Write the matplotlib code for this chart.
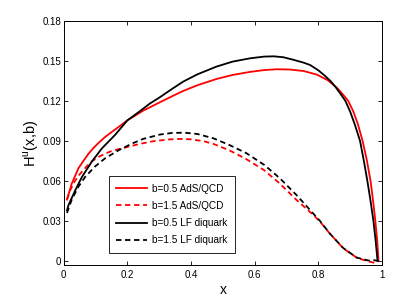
import matplotlib
matplotlib.use("Agg")
import matplotlib.pyplot as plt

plt.rcParams['font.family'] = ['Liberation Sans', 'DejaVu Sans']
plt.rcParams['mathtext.fontset'] = 'custom'
plt.rcParams['mathtext.rm'] = 'Liberation Sans'

# b=0.5 AdS/QCD
x_red_05 = [0.01, 0.025, 0.046, 0.06, 0.078, 0.093, 0.109, 0.13, 0.151, 0.175, 0.2, 0.25, 0.3,
            0.34, 0.375, 0.42, 0.48, 0.53, 0.585, 0.63, 0.67, 0.71, 0.753, 0.795, 0.83,
            0.857, 0.875, 0.894, 0.91, 0.925, 0.939, 0.952, 0.964, 0.972, 0.979, 0.985, 0.989]
y_red_05 = [0.046, 0.058, 0.0695, 0.0745, 0.0805, 0.0847, 0.0885, 0.093, 0.0968, 0.101, 0.1055, 0.1128, 0.1188,
            0.1235, 0.1275, 0.1318, 0.1365, 0.1395, 0.1418, 0.1432, 0.1438, 0.1436, 0.1425, 0.1398, 0.1355,
            0.1302, 0.1255, 0.12, 0.112, 0.102, 0.09, 0.076, 0.06, 0.045, 0.03, 0.015, 0.0]

# b=1.5 AdS/QCD
x_red_15 = [0.01, 0.02, 0.035, 0.05, 0.072, 0.09, 0.109, 0.13, 0.151, 0.175, 0.2, 0.239,
            0.281, 0.333, 0.365, 0.4, 0.44, 0.47, 0.52, 0.574, 0.63, 0.679, 0.731, 0.784,
            0.805, 0.836, 0.878, 0.92, 0.945, 0.96, 0.973, 0.983, 0.99]
y_red_15 = [0.046, 0.053, 0.060, 0.065, 0.071, 0.075, 0.078, 0.0805, 0.0825, 0.084, 0.0855, 0.0878,
            0.0898, 0.0912, 0.0915, 0.0912, 0.0898, 0.0878, 0.083, 0.0763, 0.068, 0.058, 0.0458, 0.0345,
            0.0295, 0.0205, 0.0095, 0.0025, 0.0005, -0.0005, -0.0013, -0.001, 0.0]

# b=0.5 LF diquark
x_blk_05 = [0.01, 0.015, 0.036, 0.057, 0.088, 0.12, 0.161, 0.2, 0.24, 0.27, 0.3, 0.34,
            0.375, 0.42, 0.48, 0.53, 0.585, 0.63, 0.66, 0.69, 0.72, 0.753, 0.774, 0.8,
            0.82, 0.84, 0.857, 0.872, 0.885, 0.9, 0.915, 0.931, 0.943, 0.954, 0.964,
            0.973, 0.98, 0.986]
y_blk_05 = [0.038, 0.042, 0.053, 0.063, 0.0745, 0.0845, 0.0945, 0.1055, 0.1125, 0.118, 0.1225, 0.129,
            0.1345, 0.140, 0.1458, 0.1495, 0.152, 0.1533, 0.1535, 0.1528, 0.151, 0.1488, 0.147, 0.143,
            0.139, 0.1345, 0.1295, 0.1245, 0.12, 0.112, 0.102, 0.09, 0.075, 0.06, 0.045,
            0.03, 0.015, 0.0]

# b=1.5 LF diquark
x_blk_15 = [0.01, 0.025, 0.046, 0.067, 0.098, 0.13, 0.172, 0.214, 0.249, 0.302, 0.34, 0.38,
            0.42, 0.47, 0.52, 0.574, 0.63, 0.679, 0.731, 0.784, 0.805, 0.836, 0.878, 0.92,
            0.957, 0.975, 0.99]
y_blk_15 = [0.036, 0.046, 0.0557, 0.063, 0.0708, 0.077, 0.083, 0.088, 0.0915, 0.0948, 0.096, 0.0962,
            0.0952, 0.092, 0.087, 0.0808, 0.072, 0.062, 0.0495, 0.0355, 0.030, 0.0205, 0.0097, 0.0025,
            0.0003, 0.0005, 0.0]

labels = ['b=0.5 AdS/QCD', 'b=1.5 AdS/QCD', 'b=0.5 LF diquark', 'b=1.5 LF diquark']

fig = plt.figure(figsize=(4.09, 3.0), dpi=100)
ax = fig.add_axes([0.156, 0.117, 0.778, 0.813])

lw = 1.3
dash = (0, (3, 2))
ax.plot(x_red_05, y_red_05, color='red', lw=lw, label=labels[0])
ax.plot(x_red_15, y_red_15, color='red', lw=lw, ls=dash, label=labels[1])
ax.plot(x_blk_05, y_blk_05, color='black', lw=lw, label=labels[2])
ax.plot(x_blk_15, y_blk_15, color='black', lw=lw, ls=dash, label=labels[3])

ax.set_xlim(0, 1)
ax.set_ylim(-0.003, 0.18)
ax.set_xticks([0, 0.2, 0.4, 0.6, 0.8, 1])
ax.set_xticklabels(['0', '0.2', '0.4', '0.6', '0.8', '1'])
ax.set_yticks([0, 0.03, 0.06, 0.09, 0.12, 0.15, 0.18])
ax.set_yticklabels(['0', '0.03', '0.06', '0.09', '0.12', '0.15', '0.18'])
ax.tick_params(direction='in', top=True, right=True, labelsize=7, length=3, width=0.6)
ax.tick_params(axis='y', pad=2)
ax.tick_params(axis='x', pad=4)
for s in ax.spines.values():
    s.set_linewidth(0.7)

ax.set_xlabel('x', fontsize=10, labelpad=2)
ax.set_ylabel(r'H$^{\rm u}$(x,b)', fontsize=10.5, labelpad=1)

leg = ax.legend(loc='lower left', bbox_to_anchor=(0.142, 0.05), borderaxespad=0,
                fontsize=7.2, fancybox=False, edgecolor='black', framealpha=1,
                handlelength=3.1, handletextpad=0.5, labelspacing=0.72, borderpad=0.75)
leg.get_frame().set_linewidth(0.6)

fig.savefig('out.png', dpi=100)
